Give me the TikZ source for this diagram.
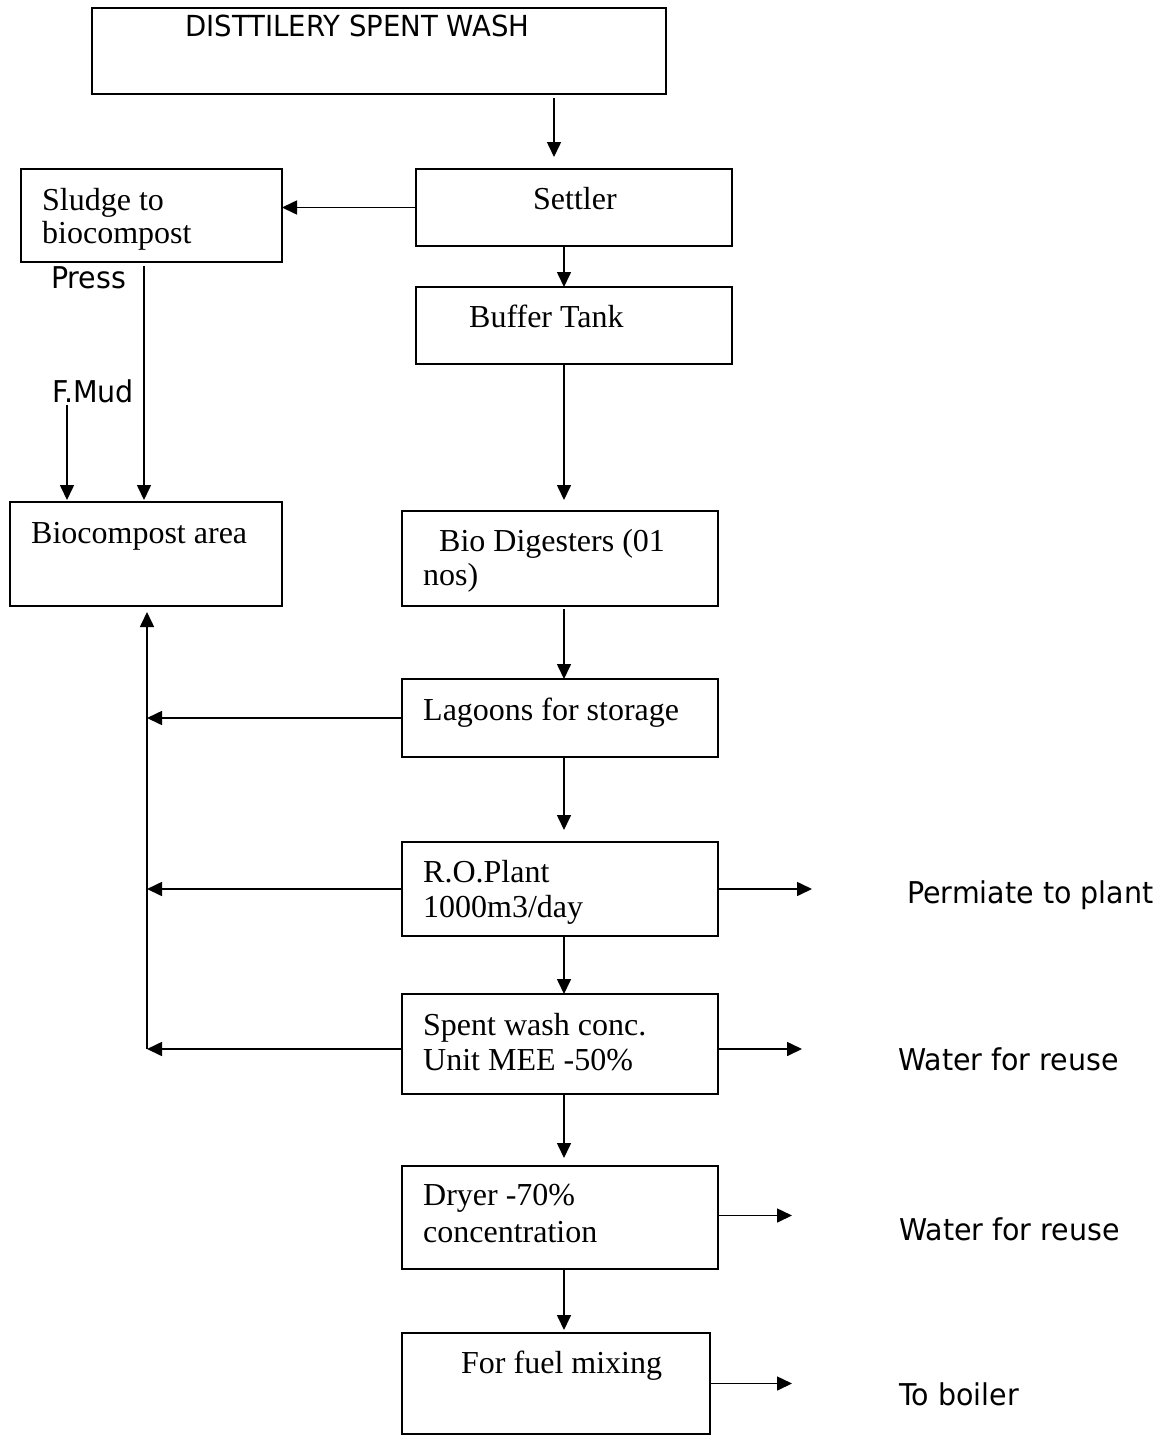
\documentclass[tikz,border=0pt]{standalone}
\usepackage{fontspec}
\setmainfont{Liberation Serif}
\newfontfamily\labfont[FakeStretch=0.95]{DejaVu Sans}
\usetikzlibrary{arrows.meta}
\tikzset{
  box/.style={draw, line width=1.8pt, inner sep=0pt, outer sep=0pt, anchor=north west},
  stxt/.style={anchor=base west, inner sep=0pt, font=\fontsize{32}{34}\selectfont},
  ltxt/.style={anchor=base west, inner sep=0pt, font=\labfont\fontsize{30}{32}\selectfont},
  arr/.style={line width=1.6pt, -{Triangle[length=15pt,width=14pt]}},
  ln/.style={line width=1.5pt}
}
\begin{document}
\begin{tikzpicture}[x=1pt,y=-1pt]
\useasboundingbox (0,0) rectangle (1167,1437);
% boxes
\node[box, minimum width=574pt, minimum height=86pt] (top) at (92,8) {};
\node[box, minimum width=316pt, minimum height=77pt] (settler) at (416,169) {};
\node[box, minimum width=261pt, minimum height=93pt] (sludge) at (21,169) {};
\node[box, minimum width=316pt, minimum height=77pt] (buffer) at (416,287) {};
\node[box, minimum width=272pt, minimum height=104pt] (bioc) at (10,502) {};
\node[box, minimum width=316pt, minimum height=95pt] (bio) at (402,511) {};
\node[box, minimum width=316pt, minimum height=78pt] (lag) at (402,679) {};
\node[box, minimum width=316pt, minimum height=94pt] (ro) at (402,842) {};
\node[box, minimum width=316pt, minimum height=100pt] (spent) at (402,994) {};
\node[box, minimum width=316pt, minimum height=103pt] (dryer) at (402,1166) {};
\node[box, minimum width=308pt, minimum height=101pt] (fuel) at (402,1333) {};
% box texts
\node[stxt] (tsettler) at (533,209) {Settler};
\node[stxt] (tsludgea) at (42,210) {Sludge to};
\node[stxt] (tsludgeb) at (42,243) {biocompost};
\node[stxt] (tbuffer) at (469,327) {Buffer Tank};
\node[stxt] (tbioc) at (31,543) {Biocompost area};
\node[stxt] (tbioa) at (439,551) {Bio Digesters (01};
\node[stxt] (tbiob) at (423,585) {nos)};
\node[stxt] (tlag) at (423,720) {Lagoons for storage};
\node[stxt] (troa) at (423,882) {R.O.Plant};
\node[stxt] (trob) at (423,917) {1000m3/day};
\node[stxt] (tspenta) at (423,1035) {Spent wash conc.};
\node[stxt] (tspentb) at (423,1070) {Unit MEE -50\%};
\node[stxt] (tdryera) at (423,1205) {Dryer -70\%};
\node[stxt] (tdryerb) at (423,1242) {concentration};
\node[stxt] (tfuel) at (461,1373) {For fuel mixing};
% outside labels
\node[ltxt, font=\labfont\fontsize{29}{32}\selectfont] (title) at (185,37) {DISTTILERY SPENT WASH};
\node[ltxt] (press) at (51,288) {Press};
\node[ltxt] (fmud) at (52,402) {F.Mud};
\node[ltxt] (perm) at (907,903) {Permiate to plant};
\node[ltxt] (wra) at (898,1070) {Water for reuse};
\node[ltxt] (wrb) at (899,1240) {Water for reuse};
\node[ltxt] (boiler) at (899,1405) {To boiler};
% column coordinates
\coordinate (ca) at (554,0);
\coordinate (cb) at (564,0);
\coordinate (cp) at (144,0);
\coordinate (cf) at (67,0);
\coordinate (cv) at (147,0);
\coordinate (vb) at (147,1049);
\coordinate (ra) at (812,0);
\coordinate (rb) at (802,0);
\coordinate (rc) at (792,0);
% main column
\draw[arr] ([yshift=-4pt]top.south -| ca) -- ([yshift=12pt]settler.north -| ca);
\draw[arr] (settler.south -| cb) -- (buffer.north -| cb);
\draw[arr] (buffer.south -| cb) -- ([yshift=11pt]bio.north -| cb);
\draw[arr] ([yshift=-3pt]bio.south -| cb) -- (lag.north -| cb);
\draw[arr] (lag.south -| cb) -- ([yshift=12pt]ro.north -| cb);
\draw[arr] (ro.south -| cb) -- (spent.north -| cb);
\draw[arr] (spent.south -| cb) -- ([yshift=8pt]dryer.north -| cb);
\draw[arr] (dryer.south -| cb) -- ([yshift=3pt]fuel.north -| cb);
% settler to sludge
\draw[arr] (settler.west) -- (sludge.east |- settler.west);
% press and F.Mud
\draw[arr] ([yshift=-4pt]sludge.south -| cp) -- ([yshift=2pt]bioc.north -| cp);
\draw[arr] ([yshift=-2pt]fmud.south -| cf) -- ([yshift=2pt]bioc.north -| cf);
% return line to biocompost
\draw[arr] (vb) -- ([yshift=-6pt]bioc.south -| cv);
\draw[arr] (lag.west) -- (lag.west -| cv);
\draw[arr] (ro.west) -- (ro.west -| cv);
\draw[arr] ([yshift=-5pt]spent.west) -- (vb);
% right outputs
\draw[arr] (ro.east) -- (ro.east -| ra);
\draw[arr] ([yshift=-5pt]spent.east) -- ([yshift=-5pt]spent.east -| rb);
\draw[arr] ([yshift=2pt]dryer.east) -- ([yshift=2pt]dryer.east -| rc);
\draw[arr] (fuel.east) -- (fuel.east -| rc);
\end{tikzpicture}
\end{document}
